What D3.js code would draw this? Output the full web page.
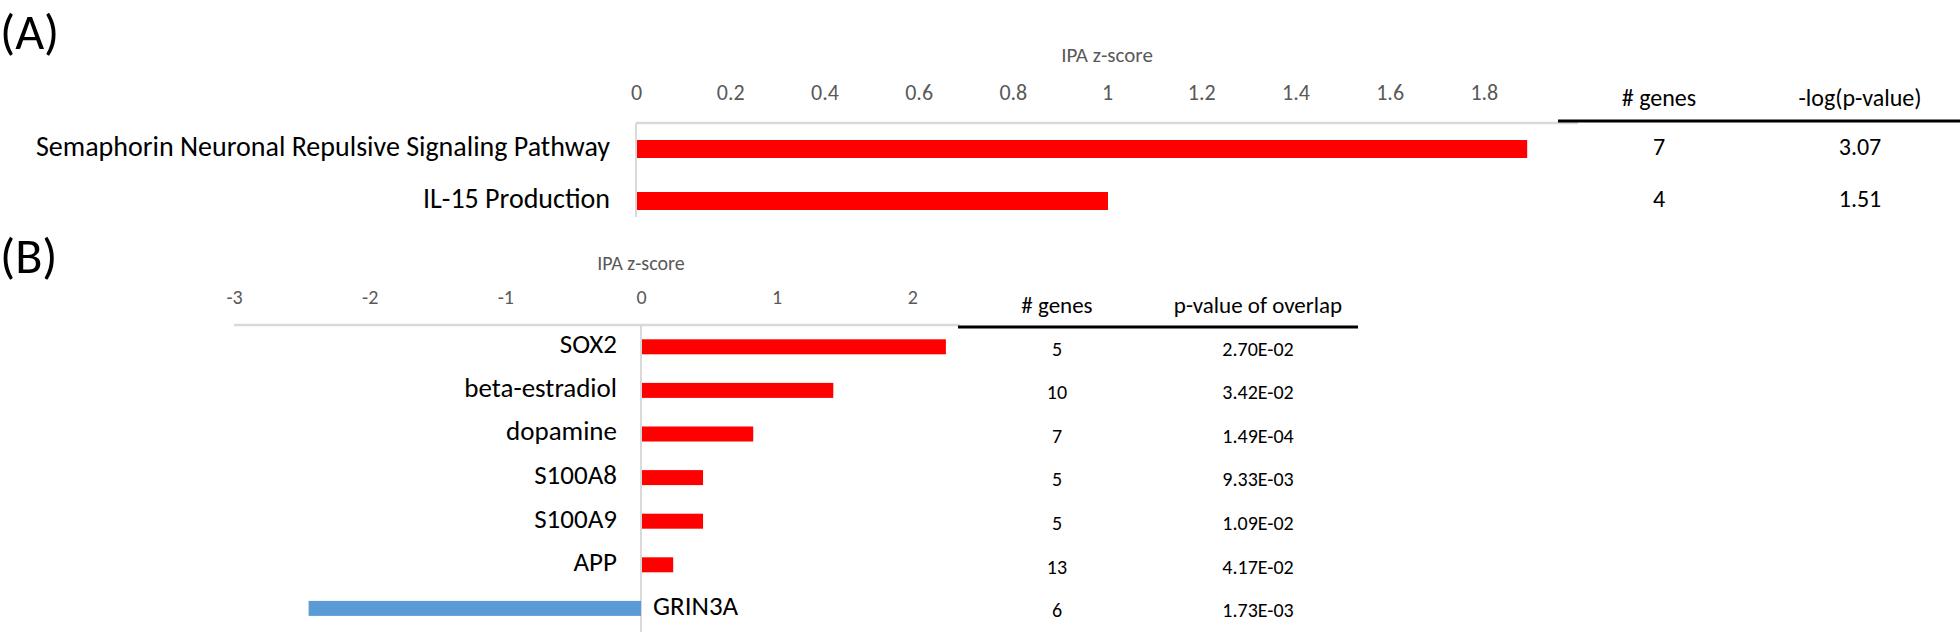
<!DOCTYPE html>
<html>
<head>
<meta charset="utf-8">
<script src="https://cdn.jsdelivr.net/npm/d3@7"></script>
<style>
  html, body { margin: 0; padding: 0; background: #fff; }
  svg { display: block; }
  text { font-family: Carlito, Lato, "Open Sans", sans-serif; }
</style>
</head>
<body>
<svg id="chart" width="1960" height="632"></svg>
<script>
// ---------- DATA ----------
const pathwaysA = ["Semaphorin Neuronal Repulsive Signaling Pathway", "IL-15 Production"];
const zscoresA = [1.89, 1.00];
const genesA = ["7", "4"];
const logpA = ["3.07", "1.51"];
const ticksA = [0, 0.2, 0.4, 0.6, 0.8, 1, 1.2, 1.4, 1.6, 1.8];
const tableHeadA = ["# genes", "-log(p-value)"];

const regulatorsB = ["SOX2", "beta-estradiol", "dopamine", "S100A8", "S100A9", "APP", "GRIN3A"];
const zscoresB = [2.24, 1.41, 0.82, 0.45, 0.45, 0.23, -2.45];
const genesB = ["5", "10", "7", "5", "5", "13", "6"];
const pvalB = ["2.70E-02", "3.42E-02", "1.49E-04", "9.33E-03", "1.09E-02", "4.17E-02", "1.73E-03"];
const ticksB = [-3, -2, -1, 0, 1, 2];
const tableHeadB = ["# genes", "p-value of overlap"];

const axisTitle = "IPA z-score";
const RED = "#FF0000", BLUE = "#5B9BD5", GRID = "#D9D9D9", TICK = "#595959";

const svg = d3.select("#chart");

// ---------- PANEL A ----------
const xA = d3.scaleLinear().domain([0, 2]).range([636, 1578]);
const yA = d3.scaleBand().domain(pathwaysA).range([123, 227]).paddingInner(0.654).paddingOuter(0.327);

svg.append("text").text("(A)").attr("x", 0).attr("y", 49)
  .attr("font-size", 50).attr("fill", "#000");

svg.append("text").text(axisTitle).attr("x", xA(1)).attr("y", 57)
  .attr("text-anchor", "middle").attr("dominant-baseline", "middle")
  .attr("font-size", 21).attr("fill", TICK);

const axA = svg.append("g").attr("transform", `translate(0,${yA.range()[0] - 31})`)
  .call(d3.axisTop(xA).tickValues(ticksA).tickSize(0).tickPadding(0).tickFormat(d3.format("~g")));
axA.select(".domain").remove();
axA.selectAll("text").attr("font-size", 22).attr("fill", TICK)
  .attr("font-family", "Carlito, Lato, sans-serif").attr("dy", "0.35em");

svg.append("line").attr("x1", xA(0)).attr("x2", xA(2))
  .attr("y1", yA.range()[0]).attr("y2", yA.range()[0])
  .attr("stroke", GRID).attr("stroke-width", 2.5);
svg.append("line").attr("x1", xA(0)).attr("x2", xA(0))
  .attr("y1", yA.range()[0]).attr("y2", 217)
  .attr("stroke", GRID).attr("stroke-width", 2);

svg.append("g").selectAll("rect").data(pathwaysA).join("rect")
  .attr("x", (d, i) => Math.min(xA(0), xA(zscoresA[i])) + 1)
  .attr("width", (d, i) => Math.abs(xA(zscoresA[i]) - xA(0)))
  .attr("y", d => yA(d)).attr("height", yA.bandwidth())
  .attr("fill", RED);

svg.append("g").selectAll("text").data(pathwaysA).join("text")
  .text(d => d).attr("x", xA(0) - 26).attr("y", d => yA(d) + yA.bandwidth() / 2)
  .attr("text-anchor", "end").attr("dominant-baseline", "middle")
  .attr("font-size", 28).attr("fill", "#000");

// table A
const colA = [1659, 1860];
svg.append("line").attr("x1", 1558).attr("x2", 1960).attr("y1", 121).attr("y2", 121)
  .attr("stroke", "#000").attr("stroke-width", 3);
svg.append("g").selectAll("text").data(tableHeadA).join("text")
  .text(d => d).attr("x", (d, i) => colA[i]).attr("y", 100)
  .attr("text-anchor", "middle").attr("dominant-baseline", "middle")
  .attr("font-size", 24).attr("fill", "#000");
pathwaysA.forEach((p, i) => {
  const cy = yA(p) + yA.bandwidth() / 2;
  [genesA[i], logpA[i]].forEach((v, j) => {
    svg.append("text").text(v).attr("x", colA[j]).attr("y", cy)
      .attr("text-anchor", "middle").attr("dominant-baseline", "middle")
      .attr("font-size", 24).attr("fill", "#000");
  });
});

// ---------- PANEL B ----------
const xB = d3.scaleLinear().domain([-3, 3]).range([234, 1048]);
const yB = d3.scaleBand().domain(regulatorsB).range([325, 630.2]).paddingInner(0.656).paddingOuter(0.328);

svg.append("text").text("(B)").attr("x", 0).attr("y", 273)
  .attr("font-size", 50).attr("fill", "#000");

svg.append("text").text(axisTitle).attr("x", xB(0)).attr("y", 265)
  .attr("text-anchor", "middle").attr("dominant-baseline", "middle")
  .attr("font-size", 20).attr("fill", TICK);

const axB = svg.append("g").attr("transform", `translate(0,${yB.range()[0] - 28})`)
  .call(d3.axisTop(xB).tickValues(ticksB).tickSize(0).tickPadding(0).tickFormat(d3.format("d")));
axB.select(".domain").remove();
axB.selectAll("text").attr("font-size", 20).attr("fill", TICK)
  .attr("font-family", "Carlito, Lato, sans-serif").attr("dy", "0.35em")
  .text(d => String(d));

svg.append("line").attr("x1", xB(-3)).attr("x2", xB(2.35))
  .attr("y1", yB.range()[0]).attr("y2", yB.range()[0])
  .attr("stroke", GRID).attr("stroke-width", 2.5);
svg.append("line").attr("x1", xB(0)).attr("x2", xB(0))
  .attr("y1", yB.range()[0]).attr("y2", 632)
  .attr("stroke", GRID).attr("stroke-width", 2);

svg.append("g").selectAll("rect").data(regulatorsB).join("rect")
  .attr("x", (d, i) => zscoresB[i] >= 0 ? xB(0) + 1 : xB(zscoresB[i]))
  .attr("width", (d, i) => Math.abs(xB(zscoresB[i]) - xB(0)))
  .attr("y", d => yB(d)).attr("height", yB.bandwidth())
  .attr("fill", (d, i) => zscoresB[i] >= 0 ? RED : BLUE);

svg.append("g").selectAll("text").data(regulatorsB).join("text")
  .text(d => d)
  .attr("x", (d, i) => zscoresB[i] >= 0 ? xB(0) - 24 : xB(0) + 12)
  .attr("y", d => yB(d) + yB.bandwidth() / 2)
  .attr("text-anchor", (d, i) => zscoresB[i] >= 0 ? "end" : "start")
  .attr("dominant-baseline", "middle")
  .attr("font-size", 27).attr("fill", "#000");

// table B
const colB = [1057, 1258];
svg.append("line").attr("x1", 958).attr("x2", 1358).attr("y1", 327).attr("y2", 327)
  .attr("stroke", "#000").attr("stroke-width", 3);
svg.append("g").selectAll("text").data(tableHeadB).join("text")
  .text(d => d).attr("x", (d, i) => colB[i]).attr("y", 308)
  .attr("text-anchor", "middle").attr("dominant-baseline", "middle")
  .attr("font-size", 23).attr("fill", "#000");
regulatorsB.forEach((r, i) => {
  const cy = yB(r) + yB.bandwidth() / 2 + 4;
  [genesB[i], pvalB[i]].forEach((v, j) => {
    svg.append("text").text(v).attr("x", colB[j]).attr("y", cy)
      .attr("text-anchor", "middle").attr("dominant-baseline", "middle")
      .attr("font-size", 20).attr("fill", "#000");
  });
});
</script>
</body>
</html>
